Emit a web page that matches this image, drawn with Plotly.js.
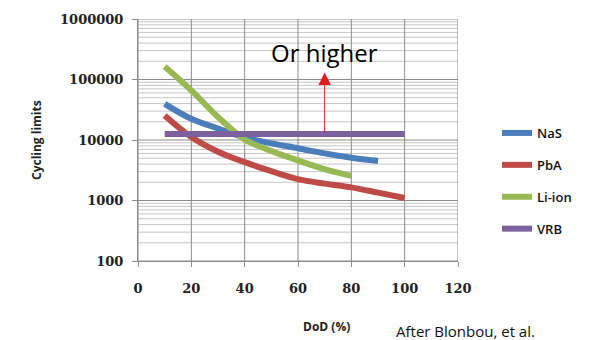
<!DOCTYPE html>
<html>
<head>
<meta charset="utf-8">
<script src="https://cdn.plot.ly/plotly-3.0.1.min.js"></script>
<style>html,body{margin:0;padding:0;background:#fff;}#chart{width:589px;height:340px;}</style>
</head>
<body>
<div id="chart"></div>
<script>
const dodNaS = [10,20,30,40,50,60,70,80,90];
const nas = [39600,22400,15500,11000,8800,7300,6000,5100,4500];
const dodPbA = [10,20,30,40,50,60,70,80,90,100];
const pba = [25400,11200,6400,4300,3050,2250,1900,1650,1350,1100];
const dodLi = [10,20,30,40,50,60,70,80];
const liion = [164000,66000,24000,10200,6600,4600,3300,2550];
const dodVRB = [10,100];
const vrb = [12600,12600];
const seriesNames = ['NaS','PbA','Li-ion','VRB'];
const colors = ['#4a7ebb','#be4b48','#98b954','#7d60a0'];
const xTicks = [0,20,40,60,80,100,120];
const yTicks = [100,1000,10000,100000,1000000];
const yTickText = ['100','1000','10000','100000','1000000'];
const yMinorGrid = [200,300,400,500,600,700,800,900,
                    2000,3000,4000,5000,6000,7000,8000,9000,
                    20000,30000,40000,50000,60000,70000,80000,90000,
                    200000,300000,400000,500000,600000,700000,800000,900000];
const arrowX = 70, arrowFrom = 12600, arrowTo = 130000;
const noteText = 'Or higher';
const noteY = 280000;

const xs = [dodNaS, dodPbA, dodLi, dodVRB];
const ys = [nas, pba, liion, vrb];
const traces = seriesNames.map((n,i)=>({
  x: xs[i], y: ys[i], name: n, type:'scatter', mode:'lines',
  legendgroup: 'g'+i,
  line: {color: colors[i], width: 6, shape: 'spline', smoothing: 1}
}));

const pw = 589-138-131, ph = 340-19-79;
const px = v => (v-138)/pw, py = v => (261-v)/ph;

// gridlines as shapes (below the traces)
const shapes = [];
yMinorGrid.forEach(v=>shapes.push({type:'line', layer:'below', xref:'paper', yref:'y',
  x0:0, x1:1, y0:v, y1:v, line:{color:'#c6c6c6', width:1}}));
yTicks.forEach(v=>shapes.push({type:'line', layer:'below', xref:'paper', yref:'y',
  x0:0, x1:1, y0:v, y1:v, line:{color:'#8c8c8c', width:1}}));
xTicks.forEach(v=>shapes.push({type:'line', layer:'below', xref:'x', yref:'paper',
  x0:v, x1:v, y0:0, y1:1, line:{color:'#8c8c8c', width:1}}));

const layout = {
  width: 589, height: 340,
  margin: {l:138, r:131, t:19, b:79},
  paper_bgcolor:'#fff', plot_bgcolor:'rgba(0,0,0,0)',
  showlegend: true,
  legend: {x: px(497), y: py(118), xanchor:'left', yanchor:'top', tracegroupgap: 12,
           font: {family:'Open Sans, sans-serif', size: 13, color:'#111', weight: 600},
           itemwidth: 30, bgcolor:'rgba(0,0,0,0)'},
  xaxis: {range:[0,120], tickvals: xTicks, ticks:'outside', ticklen:5, tickcolor:'#8c8c8c',
          showgrid:false, zeroline:false, ticklabelstandoff: 10,
          showline:true, linecolor:'#8c8c8c',
          tickfont:{family:'DejaVu Serif, serif', size:13, color:'#222', weight:'bold'}},
  yaxis: {type:'log', range:[2,6], tickvals: yTicks, ticktext: yTickText,
          ticks:'outside', ticklen:5, tickcolor:'#8c8c8c', ticklabelstandoff: 6,
          showgrid:false, zeroline:false,
          showline:true, linecolor:'#8c8c8c',
          tickfont:{family:'DejaVu Serif, serif', size:13, color:'#222', weight:'bold'}},
  shapes: shapes,
  annotations: [
    {x: arrowX, y: Math.log10(arrowTo), ax: arrowX, ay: Math.log10(arrowFrom),
     xref:'x', yref:'y', axref:'x', ayref:'y', text:'', showarrow:true,
     arrowcolor:'#e8191e', arrowwidth:1, arrowhead:2, arrowsize:2.5},
    {x: arrowX, y: Math.log10(noteY), xref:'x', yref:'y', text: noteText, showarrow:false,
     xanchor:'center', yanchor:'middle',
     font:{family:'Open Sans, sans-serif', size:24, color:'#000'}},
    {x: px(36), y: py(140), xref:'paper', yref:'paper', text:'Cycling limits', showarrow:false, textangle:-90,
     xanchor:'center', yanchor:'middle',
     font:{family:'Open Sans, sans-serif', size:12, color:'#222', weight:'bold'}},
    {x: px(326), y: py(326), xref:'paper', yref:'paper', text:'DoD (%)', showarrow:false,
     xanchor:'center', yanchor:'middle',
     font:{family:'Open Sans, sans-serif', size:12, color:'#222', weight:'bold'}},
    {x: px(465), y: py(331), xref:'paper', yref:'paper', text:'After Blonbou, et al.', showarrow:false,
     xanchor:'center', yanchor:'middle',
     font:{family:'Open Sans, sans-serif', size:15, color:'#111'}}
  ]
};

Plotly.newPlot('chart', traces, layout, {staticPlot:true, displayModeBar:false});
</script>
</body>
</html>
